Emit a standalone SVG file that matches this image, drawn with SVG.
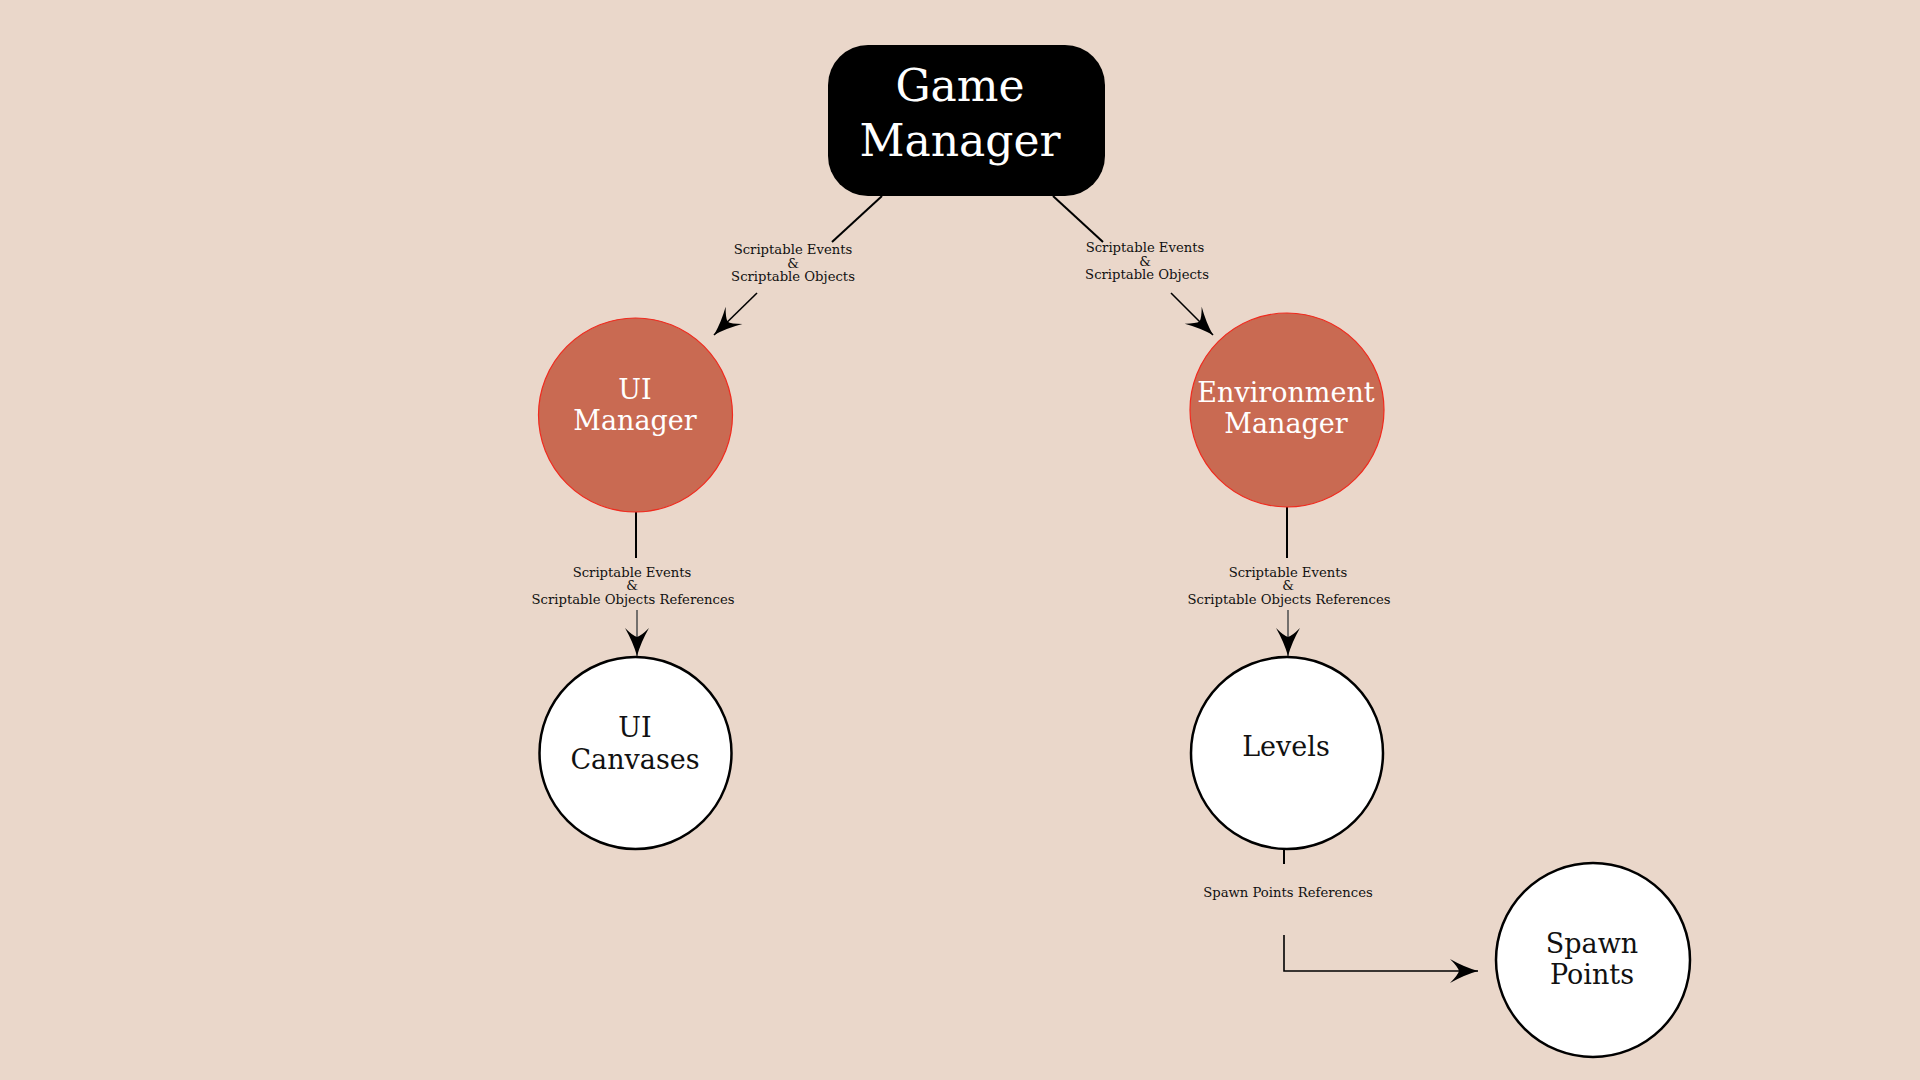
<svg xmlns="http://www.w3.org/2000/svg" width="1920" height="1080" viewBox="0 0 1920 1080">
<defs>
<style>
.lbl{font-family:"DejaVu Serif","Liberation Serif",serif;font-size:13.2px;fill:#111;text-anchor:middle}
.big{font-family:"DejaVu Serif","Liberation Serif",serif;text-anchor:middle}
.ln{stroke:#000;stroke-width:2;fill:none}
.ar{stroke:#000;stroke-width:1.6;fill:none;marker-end:url(#head)}
.arg{stroke:#555;stroke-width:1.6;fill:none;marker-end:url(#head)}
.mgr{fill:#C96A52;stroke:#F02A1E;stroke-width:1.2}
.leaf{fill:#fff;stroke:#000;stroke-width:2.5}
</style>
<marker id="head" markerUnits="userSpaceOnUse" markerWidth="32" markerHeight="26" viewBox="-30 -13 32 26" refX="0" refY="0" orient="auto">
<path d="M0,0 Q-14,-4 -28,-12 Q-20,-4 -19,0 Q-20,4 -28,12 Q-14,4 0,0 Z" fill="#000"/>
</marker>
</defs>
<rect width="1920" height="1080" fill="#EAD7CA"/>
<g id="connectors">
<line class="ln" x1="882" y1="196" x2="832" y2="242"/>
<line class="ar" x1="757" y1="293" x2="714" y2="335"/>
<text class="lbl" x="793" y="254">Scriptable Events</text>
<text class="lbl" x="793" y="268">&amp;</text>
<text class="lbl" x="793" y="281">Scriptable Objects</text>
<line class="ln" x1="1053" y1="196" x2="1103" y2="242"/>
<line class="ar" x1="1171" y1="293" x2="1213" y2="335"/>
<text class="lbl" x="1145" y="252">Scriptable Events</text>
<text class="lbl" x="1145" y="266">&amp;</text>
<text class="lbl" x="1147" y="279">Scriptable Objects</text>
<line class="ln" x1="636" y1="512" x2="636" y2="558" stroke-width="2.5"/>
<line class="arg" x1="637" y1="610" x2="637" y2="656"/>
<text class="lbl" x="632" y="577">Scriptable Events</text>
<text class="lbl" x="632" y="590">&amp;</text>
<text class="lbl" x="633" y="604">Scriptable Objects References</text>
<line class="ln" x1="1287" y1="507" x2="1287" y2="558" stroke-width="2.5"/>
<line class="arg" x1="1288" y1="610" x2="1288" y2="656"/>
<text class="lbl" x="1288" y="577">Scriptable Events</text>
<text class="lbl" x="1288" y="590">&amp;</text>
<text class="lbl" x="1289" y="604">Scriptable Objects References</text>
<line class="ln" x1="1284" y1="850" x2="1284" y2="864"/>
<text class="lbl" x="1288" y="897">Spawn Points References</text>
<path class="ar" d="M1284,935 V971 H1478"/>
</g>
<g id="game-manager">
<rect x="828" y="45" width="277" height="151" rx="40" fill="#000"/>
<text class="big" x="960" y="101" font-size="44" fill="#fff">Game</text>
<text class="big" x="960" y="156" font-size="44" fill="#fff">Manager</text>
</g>
<g id="ui-manager">
<circle class="mgr" cx="635.5" cy="415" r="97"/>
<text class="big" x="635" y="399" font-size="27" fill="#fff">UI</text>
<text class="big" x="635" y="430" font-size="27" fill="#fff">Manager</text>
</g>
<g id="environment-manager">
<circle class="mgr" cx="1287" cy="410" r="97"/>
<text class="big" x="1286" y="402" font-size="27" fill="#fff">Environment</text>
<text class="big" x="1286" y="433" font-size="27" fill="#fff">Manager</text>
</g>
<g id="ui-canvases">
<circle class="leaf" cx="635.5" cy="753" r="96"/>
<text class="big" x="635" y="737" font-size="27" fill="#111">UI</text>
<text class="big" x="635" y="769" font-size="27" fill="#111">Canvases</text>
</g>
<g id="levels">
<circle class="leaf" cx="1287" cy="753" r="96"/>
<text class="big" x="1286" y="756" font-size="27" fill="#111">Levels</text>
</g>
<g id="spawn-points">
<circle class="leaf" cx="1593" cy="960" r="97"/>
<text class="big" x="1592" y="953" font-size="27" fill="#111">Spawn</text>
<text class="big" x="1592" y="984" font-size="27" fill="#111">Points</text>
</g>
</svg>
